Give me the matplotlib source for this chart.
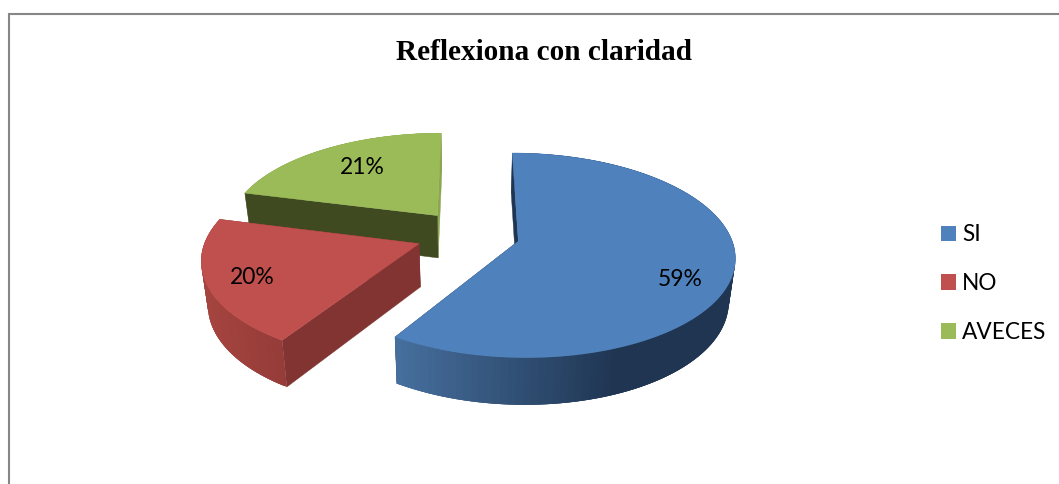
#!/usr/bin/env python3
"""Exploded 3D-look pie: Reflexiona con claridad."""

import numpy as np
import matplotlib
matplotlib.use("Agg")
import matplotlib.pyplot as plt
from matplotlib.patches import Patch, Polygon

TITLE = "Reflexiona con claridad"
CATEGORIES = ["SI", "NO", "AVECES"]
PERCENTS = [59, 20, 21]

TOP_COLORS = ["#4F81BD", "#C0504D", "#9BBB59"]
# cut face colours: the face at the start angle and the one at the end angle
CUT_START = ["#1F3552", "#823433", "#404A20"]
CUT_END = ["#1F3552", "#823433", "#8AA64F"]
# rim shade stops, from the left of the rim to the right
RIM_LEFT = ["#47709F", "#A5443F", "#8AA64F"]
RIM_RIGHT = ["#1F3552", "#963C39", "#8AA64F"]

# pixel positions of the percent labels
LABEL_POS = [(680, 280), (252, 278), (362, 167)]

# projection of the pie disc onto the page, in pixels
CX, CY = 469, 234.5
RX, RY = 212, 98.5
PERSP = 0.137
EXPLODE = [0.24, 0.25, 0.25]
DEPTH = 43
BOTTOM_SHRINK = 0.975


def project(u, v, h):
    """Disc coords (u right, v back), h=0 top face, h=1 bottom face."""
    s = 1 / (1 + PERSP * v)
    z = 1 - (1 - BOTTOM_SHRINK) * h
    return CX + RX * u * s * z, CY - RY * v * s * z + DEPTH * h * s


def mix(c1, c2, t):
    a = np.array(matplotlib.colors.to_rgb(c1))
    b = np.array(matplotlib.colors.to_rgb(c2))
    return a + (b - a) * t


def draw_slice(ax, start, end, i):
    """Angles are degrees clockwise from twelve o'clock."""
    mid = np.radians((start + end) / 2)
    ou, ov = EXPLODE[i] * np.sin(mid), EXPLODE[i] * np.cos(mid)
    theta = np.radians(np.linspace(start, end, 121))
    u = ou + np.sin(theta)
    v = ov + np.cos(theta)
    z = 2 + i * -0.1

    def cut_face(k, color):
        pts = [project(ou, ov, 0), project(u[k], v[k], 0),
               project(u[k], v[k], 1), project(ou, ov, 1)]
        ax.add_patch(Polygon(pts, closed=True, facecolor=color,
                             edgecolor=color, linewidth=0.3, zorder=z))

    # end face goes under the rim, start face over it
    cut_face(-1, CUT_END[i])

    # outer rim, shaded in strips; each strip overlaps the next so no seams show
    n = len(theta)
    for k in range(n - 1):
        k2 = min(k + 3, n - 1)
        pts = [project(u[k], v[k], 0), project(u[k2], v[k2], 0),
               project(u[k2], v[k2], 1), project(u[k], v[k], 1)]
        x = pts[0][0]
        if i == 0:
            t = np.clip((x - 397) / 225, 0, 1)
        else:
            t = np.clip((x - 205) / 75, 0, 1)
        ax.add_patch(Polygon(pts, closed=True, facecolor=mix(RIM_LEFT[i], RIM_RIGHT[i], t),
                             edgecolor="none", linewidth=0, zorder=z))

    cut_face(0, CUT_START[i])

    # top face goes over everything of this slice
    top = [project(ou, ov, 0)] + [project(a, b, 0) for a, b in zip(u, v)]
    ax.add_patch(Polygon(top, closed=True, facecolor=TOP_COLORS[i],
                         edgecolor=TOP_COLORS[i], linewidth=0.3, zorder=z + 0.05))


def main():
    plt.rcParams["font.family"] = ["Lato", "DejaVu Sans"]
    fig = plt.figure(figsize=(10.59, 4.84), dpi=100)
    ax = fig.add_axes([0, 0, 1, 1])
    ax.set_xlim(0, 1059)
    ax.set_ylim(484, 0)
    ax.axis("off")

    # chart frame, only left and top show in the crop
    ax.plot([9, 9, 1059], [484, 13.5, 13.5], color="#868686", lw=1.5,
            solid_joinstyle="miter", zorder=1)

    ax.text(544, 53, TITLE, family="Liberation Serif", weight="bold",
            fontsize=21.1, ha="center", va="center", color="black")

    edges = np.cumsum([0] + PERCENTS) * 3.6
    for i in range(len(PERCENTS)):
        draw_slice(ax, edges[i], edges[i + 1], i)

    for pct, (x, y) in zip(PERCENTS, LABEL_POS):
        ax.text(x, y, f"{pct}%", fontsize=16.5, ha="center", va="center",
                color="black", zorder=5)

    handles = [Patch(facecolor=c, edgecolor=c, linewidth=0) for c in TOP_COLORS]
    ax.legend(handles, CATEGORIES, loc="center left",
              bbox_to_anchor=(941 / 1059, 1 - 283.5 / 484), frameon=False,
              fontsize=16.3, handlelength=0.66, handleheight=0.66,
              handletextpad=0.27, labelspacing=1.23, borderpad=0,
              borderaxespad=0)

    fig.savefig("out.png", dpi=100)


if __name__ == "__main__":
    main()
